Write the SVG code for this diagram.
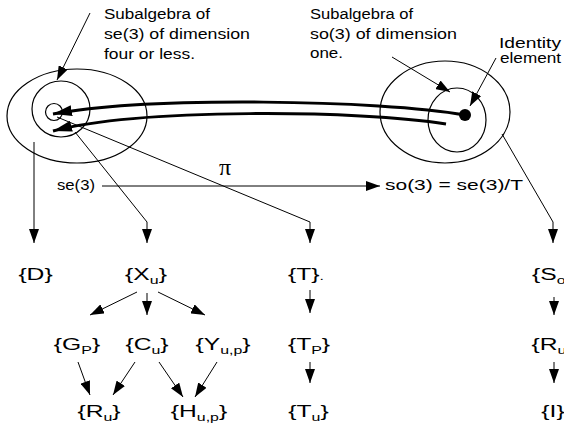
<svg xmlns="http://www.w3.org/2000/svg" width="564" height="432" viewBox="0 0 564 432">
<style>
  text { font-family: "Liberation Sans", Arial, sans-serif; fill: #000; }
  .lbl { font-size: 14px; }
  .node text { font-size: 17px; text-anchor: middle; }
  .sub { font-size: 11px; }
  .pi { font-family: "Liberation Serif", "Times New Roman", serif; font-size: 24px; text-anchor: middle; }
  .ell { fill: none; stroke: #000; stroke-width: 1.2; }
  .ln { fill: none; stroke: #000; stroke-width: 1; }
  .thick { fill: none; stroke: #000; stroke-width: 3; }
</style>
<defs>
  <marker id="ah" viewBox="0 0 14 10" refX="14" refY="5" markerWidth="14" markerHeight="10" orient="auto" markerUnits="userSpaceOnUse">
    <path d="M0,0 L14,5 L0,10 z" fill="#000"/>
  </marker>
  <marker id="ahb" viewBox="0 0 19 11" refX="19" refY="5.5" markerWidth="19" markerHeight="11" orient="auto" markerUnits="userSpaceOnUse">
    <path d="M0,0 L19,5.5 L0,11 z" fill="#000"/>
  </marker>
</defs>

<g id="se3-sets">
  <ellipse class="ell" cx="77" cy="116" rx="70" ry="47"/>
  <ellipse class="ell" cx="61" cy="109" rx="29" ry="28"/>
  <circle class="ell" cx="54" cy="112" r="8.5"/>
</g>
<g id="so3-sets">
  <ellipse class="ell" cx="445" cy="112" rx="65" ry="51"/>
  <ellipse class="ell" cx="457" cy="120" rx="29" ry="32"/>
  <circle cx="465" cy="115" r="6" fill="#000"/>
</g>

<g id="labels">
  <text class="lbl" x="104" y="19" textLength="106" lengthAdjust="spacingAndGlyphs">Subalgebra of</text>
  <text class="lbl" x="104" y="39" textLength="146" lengthAdjust="spacingAndGlyphs">se(3) of dimension</text>
  <text class="lbl" x="104" y="59" textLength="91" lengthAdjust="spacingAndGlyphs">four or less.</text>
  <text class="lbl" x="310" y="19" textLength="103" lengthAdjust="spacingAndGlyphs">Subalgebra of</text>
  <text class="lbl" x="310" y="39" textLength="147" lengthAdjust="spacingAndGlyphs">so(3) of dimension</text>
  <text class="lbl" x="310" y="58" textLength="33" lengthAdjust="spacingAndGlyphs">one.</text>
  <text class="lbl" x="499" y="48" textLength="62" lengthAdjust="spacingAndGlyphs">Identity</text>
  <text class="lbl" x="500" y="63" textLength="61" lengthAdjust="spacingAndGlyphs">element</text>
  <text class="lbl" x="57" y="190" textLength="38" lengthAdjust="spacingAndGlyphs">se(3)</text>
  <text class="lbl" x="385" y="190" textLength="138" lengthAdjust="spacingAndGlyphs">so(3) = se(3)/T</text>
  <text class="pi" x="225" y="175">π</text>
</g>

<g id="connectors">
  <path class="thick" d="M465,115 C380,100 150,96 53,114" marker-end="url(#ahb)"/>
  <path class="thick" d="M446,124 C360,110 140,108 53,131" marker-end="url(#ahb)"/>
  <path class="ln" d="M90,13 L57,80" marker-end="url(#ah)"/>
  <path class="ln" d="M392,57 L450,92" marker-end="url(#ah)"/>
  <path class="ln" d="M496,58 L470,106" marker-end="url(#ah)"/>
  <path class="ln" d="M102,186 L380,186" marker-end="url(#ah)"/>
  <path class="ln" d="M34,142 L34,243" marker-end="url(#ah)"/>
  <path class="ln" d="M75,132 L147,222 L147,243" marker-end="url(#ah)"/>
  <path class="ln" d="M57,117 L310,222 L310,243" marker-end="url(#ah)"/>
  <path class="ln" d="M502,134 L553,222 L553,243" marker-end="url(#ah)"/>
  <path class="ln" d="M137,292 L90,315" marker-end="url(#ah)"/>
  <path class="ln" d="M147,293 L147,315" marker-end="url(#ah)"/>
  <path class="ln" d="M158,292 L205,315" marker-end="url(#ah)"/>
  <path class="ln" d="M78,362 L90,395" marker-end="url(#ah)"/>
  <path class="ln" d="M135,362 L113,395" marker-end="url(#ah)"/>
  <path class="ln" d="M159,362 L183,397" marker-end="url(#ah)"/>
  <path class="ln" d="M217,362 L195,397" marker-end="url(#ah)"/>
  <path class="ln" d="M310,290 L310,313" marker-end="url(#ah)"/>
  <path class="ln" d="M310,362 L310,383" marker-end="url(#ah)"/>
  <path class="ln" d="M554,297 L554,315" marker-end="url(#ah)"/>
  <path class="ln" d="M554,362 L554,383" marker-end="url(#ah)"/>
</g>

<g id="n-D" class="node" transform="translate(35.5,280) scale(1.45,1)"><text>{D}</text></g>
<g id="n-Xu" class="node" transform="translate(146,280) scale(1.45,1)"><text>{X<tspan class="sub" dy="4">u</tspan><tspan dy="-4">}</tspan></text></g>
<g id="n-T" class="node" transform="translate(306,280) scale(1.45,1)"><text>{T}<tspan class="sub" font-size="9">.</tspan></text></g>
<g id="n-So" class="node" transform="translate(553,280) scale(1.45,1)"><text>{S<tspan class="sub" dy="4">o</tspan><tspan dy="-4">}</tspan></text></g>
<g id="n-GP" class="node" transform="translate(77,350) scale(1.45,1)"><text>{G<tspan class="sub" dy="4">P</tspan><tspan dy="-4">}</tspan></text></g>
<g id="n-Cu" class="node" transform="translate(147,350) scale(1.45,1)"><text>{C<tspan class="sub" dy="4">u</tspan><tspan dy="-4">}</tspan></text></g>
<g id="n-Yup" class="node" transform="translate(223,350) scale(1.45,1)"><text>{Y<tspan class="sub" dy="4">u,p</tspan><tspan dy="-4">}</tspan></text></g>
<g id="n-TP" class="node" transform="translate(309,350) scale(1.45,1)"><text>{T<tspan class="sub" dy="4">P</tspan><tspan dy="-4">}</tspan></text></g>
<g id="n-Ru2" class="node" transform="translate(553,350) scale(1.45,1)"><text>{R<tspan class="sub" dy="4">u</tspan><tspan dy="-4">}</tspan></text></g>
<g id="n-Ru" class="node" transform="translate(99,417) scale(1.45,1)"><text>{R<tspan class="sub" dy="4">u</tspan><tspan dy="-4">}</tspan></text></g>
<g id="n-Hup" class="node" transform="translate(199,417) scale(1.45,1)"><text>{H<tspan class="sub" dy="4">u,p</tspan><tspan dy="-4">}</tspan></text></g>
<g id="n-Tu" class="node" transform="translate(308.5,417) scale(1.45,1)"><text>{T<tspan class="sub" dy="4">u</tspan><tspan dy="-4">}</tspan></text></g>
<g id="n-I" class="node" transform="translate(553,417) scale(1.45,1)"><text>{I}</text></g>
</svg>
